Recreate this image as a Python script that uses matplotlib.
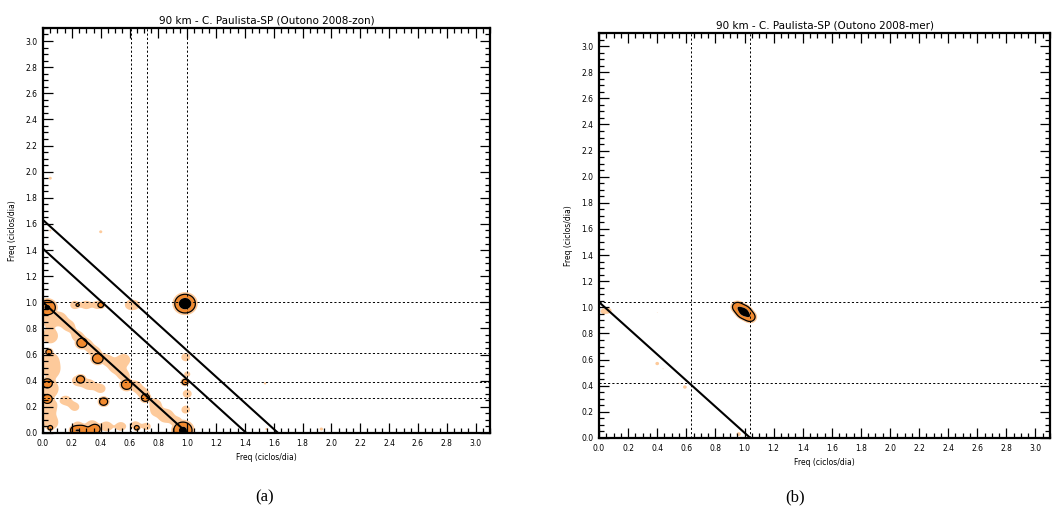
import numpy as np
import matplotlib
matplotlib.use("Agg")
import matplotlib.pyplot as plt
from matplotlib.ticker import MultipleLocator, FormatStrFormatter

# ---- spectral peaks, panel (a): zonal component ----
a_peak_x = [0.03, 0.985, 0.27, 0.38, 0.04, 0.26, 0.58, 0.03, 0.03, 0.42, 0.71, 0.985,
            0.97, 0.27, 0.36, 0.22, 0.05, 0.65, 0.40, 0.24]
a_peak_y = [0.96, 0.99, 0.69, 0.57, 0.62, 0.41, 0.37, 0.38, 0.26, 0.24, 0.27, 0.39,
            0.02, 0.02, 0.03, 0.02, 0.04, 0.04, 0.98, 0.98]
a_peak_amp = [2.3, 3.4, 1.6, 1.7, 1.35, 1.5, 1.65, 1.7, 1.65, 1.5, 1.5, 1.35,
              2.5, 1.65, 1.65, 1.5, 1.3, 1.3, 1.3, 1.1]
a_peak_sig = [0.038, 0.042, 0.03, 0.03, 0.02, 0.025, 0.03, 0.028, 0.028, 0.025, 0.025, 0.02,
              0.042, 0.03, 0.03, 0.025, 0.017, 0.017, 0.02, 0.014]

# weaker background power, panel (a)
a_weak_x = [0.04, 0.05, 0.05, 0.06, 0.05, 0.04, 0.05,
            0.12, 0.18, 0.24, 0.30, 0.36, 0.44, 0.50, 0.56, 0.64, 0.70, 0.78, 0.86, 0.93,
            0.22, 0.30, 0.38, 0.60, 0.64,
            0.56, 0.24, 0.32, 0.40, 0.16, 0.22,
            0.24, 0.34, 0.44, 0.54, 0.64, 0.72,
            0.99, 1.00, 1.00, 0.99, 0.78, 0.84,
            0.40, 0.05, 1.54, 1.93, 1.55, 0.05]
a_weak_y = [0.88, 0.74, 0.56, 0.48, 0.34, 0.20, 0.08,
            0.88, 0.82, 0.74, 0.68, 0.62, 0.56, 0.50, 0.44, 0.36, 0.30, 0.22, 0.14, 0.08,
            0.98, 0.98, 0.98, 0.98, 0.98,
            0.56, 0.40, 0.37, 0.34, 0.25, 0.20,
            0.05, 0.06, 0.05, 0.05, 0.06, 0.05,
            0.58, 0.45, 0.30, 0.18, 0.16, 0.12,
            1.54, 1.95, 0.38, 0.03, 0.03, 1.55]
a_weak_amp = [0.8, 0.75, 0.8, 0.8, 0.85, 0.8, 0.8,
              0.7, 0.7, 0.7, 0.7, 0.7, 0.7, 0.7, 0.7, 0.7, 0.7, 0.7, 0.7, 0.7,
              0.7, 0.7, 0.7, 0.7, 0.65,
              0.75, 0.7, 0.7, 0.7, 0.7, 0.65,
              0.75, 0.75, 0.75, 0.7, 0.65, 0.6,
              0.7, 0.6, 0.7, 0.65, 0.6, 0.6,
              0.55, 0.55, 0.5, 0.55, 0.5, 0.5]
a_weak_sig = [0.045, 0.045, 0.045, 0.045, 0.045, 0.045, 0.045,
              0.035, 0.035, 0.035, 0.035, 0.035, 0.035, 0.035, 0.035, 0.035, 0.035, 0.035, 0.035, 0.035,
              0.028, 0.028, 0.028, 0.028, 0.028,
              0.038, 0.035, 0.035, 0.03, 0.03, 0.03,
              0.032, 0.032, 0.032, 0.03, 0.028, 0.028,
              0.028, 0.022, 0.028, 0.028, 0.028, 0.028,
              0.013, 0.013, 0.012, 0.014, 0.012, 0.01]

# ---- spectral peaks, panel (b): meridional component ----
b_peak_x = [0.95, 1.04, 0.995, 0.03, 0.07, 0.40, 0.44, 0.59, 0.55, 0.40, 0.96]
b_peak_y = [1.005, 0.925, 0.965, 0.97, 0.975, 0.57, 0.53, 0.39, 0.42, 0.96, 0.03]
b_peak_amp = [1.5, 1.5, 2.8, 0.55, 0.5, 0.55, 0.42, 0.55, 0.42, 0.42, 0.5]
b_peak_sig = [0.028, 0.028, 0.03, 0.022, 0.02, 0.015, 0.01, 0.015, 0.01, 0.008, 0.02]

# reference frequencies (cycles/day)
a_vlines = [0.61, 0.72, 1.0]
a_hlines = [1.0, 0.61, 0.39, 0.27]
a_sums = [1.0, 1.41, 1.63]
b_vlines = [0.63, 1.04]
b_hlines = [1.04, 0.42]
b_sums = [1.04]

titles = ["90 km - C. Paulista-SP (Outono 2008-zon)",
          "90 km - C. Paulista-SP (Outono 2008-mer)"]
panel_tags = ["(a)", "(b)"]
xlabel = "Freq (ciclos/dia)"
ylabel = "Freq (ciclos/dia)"

FMAX = 3.1
levels = [0.38, 0.8, 2.0, 10.0]
fill_colors = ["#fdca9b", "#f28a2e", "#000000"]


def field(xs, ys, amps, sigs, grid):
    gx, gy = grid
    z = np.zeros_like(gx)
    for x0, y0, a, s in zip(xs, ys, amps, sigs):
        z += a * np.exp(-((gx - x0) ** 2 + (gy - y0) ** 2) / (2 * s ** 2))
    return z


f = np.linspace(0, FMAX, 621)
grid = np.meshgrid(f, f)
weak_a = np.minimum(field(a_weak_x, a_weak_y, a_weak_amp, a_weak_sig, grid), 0.7)
za = np.maximum(weak_a, field(a_peak_x, a_peak_y, a_peak_amp, a_peak_sig, grid))
zb = field(b_peak_x, b_peak_y, b_peak_amp, b_peak_sig, grid)

fig = plt.figure(figsize=(10.55, 5.13), dpi=100)
ax_a = fig.add_axes([0.0408, 0.156, 0.4237, 0.7895])
ax_b = fig.add_axes([0.5678, 0.1462, 0.4275, 0.7895])

dot = (0, (2.2, 2.2))
for ax, z, vl, hl, sums, title, tag in [
        (ax_a, za, a_vlines, a_hlines, a_sums, titles[0], panel_tags[0]),
        (ax_b, zb, b_vlines, b_hlines, b_sums, titles[1], panel_tags[1])]:
    ax.contourf(grid[0], grid[1], z, levels=levels, colors=fill_colors, antialiased=True)
    ax.contour(grid[0], grid[1], z, levels=[levels[1]], colors="black", linewidths=0.9)
    for v in vl:
        ax.axvline(v, color="black", lw=0.7, ls=dot)
    for h in hl:
        ax.axhline(h, color="black", lw=0.7, ls=dot)
    for s in sums:
        ax.plot([0, s], [s, 0], color="black", lw=1.5, solid_capstyle="butt")
    ax.set_xlim(0, FMAX)
    ax.set_ylim(0, FMAX)
    ax.xaxis.set_major_locator(MultipleLocator(0.2))
    ax.yaxis.set_major_locator(MultipleLocator(0.2))
    ax.xaxis.set_minor_locator(MultipleLocator(0.05))
    ax.yaxis.set_minor_locator(MultipleLocator(0.05))
    ax.xaxis.set_major_formatter(FormatStrFormatter("%.1f"))
    ax.yaxis.set_major_formatter(FormatStrFormatter("%.1f"))
    ax.tick_params(which="both", direction="in", top=True, right=True,
                   labelsize=5.5, width=0.9, pad=4)
    ax.tick_params(which="major", length=7)
    ax.tick_params(which="minor", length=3.5)
    for sp in ax.spines.values():
        sp.set_linewidth(1.6)
    ax.set_title(title, fontsize=7.5, pad=3)
    ax.set_xlabel(xlabel, fontsize=5.5, labelpad=4)
    ax.set_ylabel(ylabel, fontsize=5.5, labelpad=6)

fig.text(265 / 1055, 1 - 497 / 513, panel_tags[0], ha="center", va="center",
         fontsize=12, family="Liberation Serif")
fig.text(795 / 1055, 1 - 497 / 513, panel_tags[1], ha="center", va="center",
         fontsize=12, family="Liberation Serif")

fig.savefig("out.png", dpi=100)
